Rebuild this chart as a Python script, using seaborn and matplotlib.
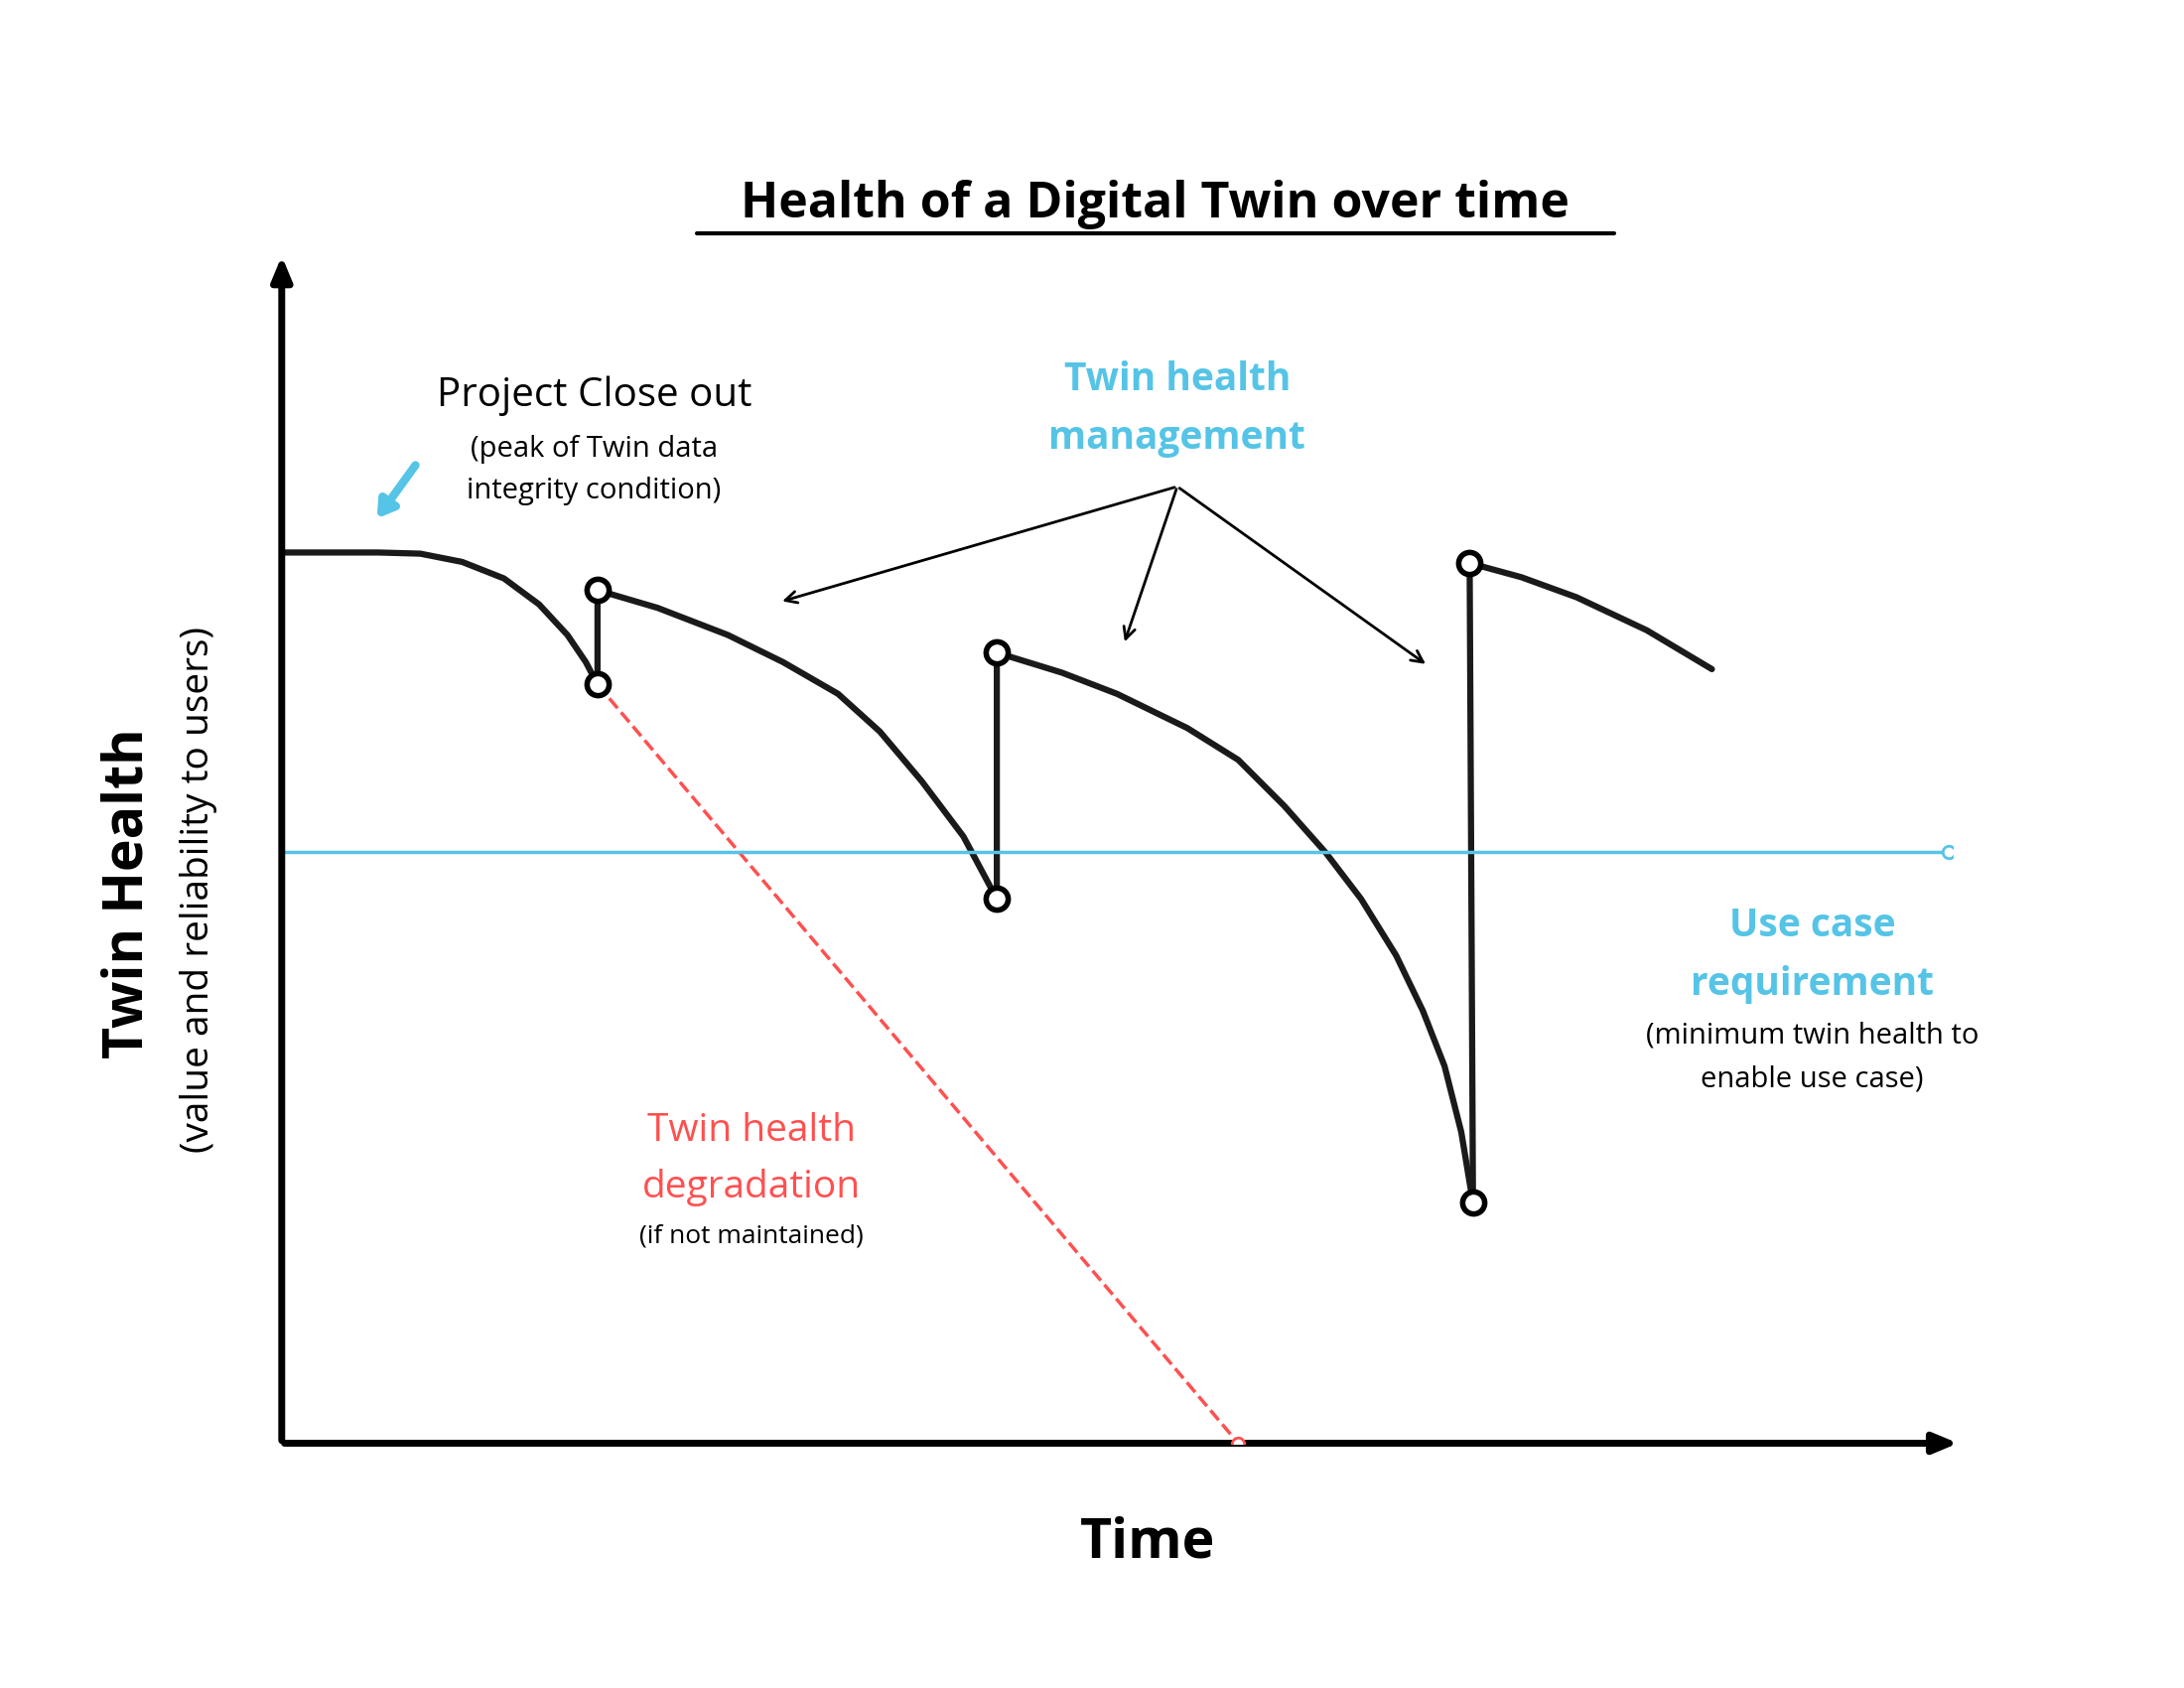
import matplotlib
matplotlib.use("Agg")
from matplotlib import pyplot as plt
import seaborn as sns
import pandas as pd

sns.set_theme(style="white")
plt.rcParams["font.family"] = ["Open Sans", "DejaVu Sans"]
plt.rcParams["text.color"] = "black"

# health curve segments (time, health)
seg1_t = [0, 5.8, 8.3, 10.8, 13.3, 15.4, 17.1, 18.2, 18.9]
seg1_h = [75.6, 75.6, 75.5, 74.8, 73.4, 71.2, 68.6, 66.3, 64.4]
seg2_t = [18.9, 18.9, 22.5, 26.7, 30.0, 33.3, 35.8, 38.3, 40.8, 42.8]
seg2_h = [64.4, 72.4, 70.9, 68.6, 66.3, 63.6, 60.4, 56.2, 51.5, 46.2]
seg3_t = [42.8, 42.8, 46.7, 50.0, 54.2, 57.25, 60.0, 62.5, 64.6, 66.7, 68.3, 69.6, 70.6, 71.3]
seg3_h = [46.2, 67.1, 65.4, 63.6, 60.7, 58.0, 54.1, 50.1, 46.2, 41.4, 36.7, 32.0, 26.4, 20.4]
seg4_t = [71.3, 71.1, 74.2, 77.5, 81.7, 85.6]
seg4_h = [20.4, 74.7, 73.5, 71.8, 69.0, 65.7]
node_t = [18.9, 18.9, 42.8, 42.8, 71.3, 71.1]
node_h = [64.4, 72.4, 46.2, 67.1, 20.4, 74.7]
degrade_t = [18.9, 57.25]
degrade_h = [64.4, 0]
requirement = 50.2

fig = plt.figure(figsize=(22, 17), dpi=100)
ax = fig.add_axes([0.129, 0.145, 0.765, 0.698])
ax.set_xlim(0, 100)
ax.set_ylim(0, 100)
ax.axis("off")

curve = pd.concat([
    pd.DataFrame({"t": seg1_t, "h": seg1_h, "s": 1}),
    pd.DataFrame({"t": seg2_t, "h": seg2_h, "s": 2}),
    pd.DataFrame({"t": seg3_t, "h": seg3_h, "s": 3}),
    pd.DataFrame({"t": seg4_t, "h": seg4_h, "s": 4}),
])
sns.lineplot(data=curve, x="t", y="h", units="s", estimator=None, sort=False,
             color="#1a1a1a", lw=4.5, ax=ax)
ax.plot(degrade_t, degrade_h, "--", color="#ff5050", lw=2.5)
ax.plot(degrade_t[1], degrade_h[1], "o", mfc="white", mec="#ff5050", ms=9, mew=2, zorder=6)
ax.plot([0, 99.8], [requirement, requirement], color="#55c4e6", lw=2.5)
ax.plot(99.8, requirement, "o", mfc="white", mec="#55c4e6", ms=9, mew=2)
ax.plot(node_t, node_h, "o", mfc="white", mec="black", ms=16, mew=4, zorder=5)

# axes arrows
ax.annotate("", xy=(100.5, 0), xytext=(0, 0), annotation_clip=False,
            arrowprops=dict(arrowstyle="-|>,head_length=1.2,head_width=0.5", lw=5, color="black"))
ax.annotate("", xy=(0, 101), xytext=(0, 0), annotation_clip=False,
            arrowprops=dict(arrowstyle="-|>,head_length=1.2,head_width=0.5", lw=5, color="black"))

blue = "#55c4e6"
red = "#ff5050"
fig.text(0.529, 0.879, "Health of a Digital Twin over time", ha="center", va="center",
         fontsize=36, fontweight="bold")
# underline title
fig.add_artist(plt.Line2D([0.319, 0.739], [0.862, 0.862], color="black", lw=3))

ax.text(18.7, 88.9, "Project Close out", ha="center", va="center", fontsize=29)
ax.text(18.7, 84.4, "(peak of Twin data", ha="center", va="center", fontsize=21)
ax.text(18.7, 80.8, "integrity condition)", ha="center", va="center", fontsize=21)
ax.annotate("", xy=(5.6, 78.3), xytext=(8.1, 83.2),
            arrowprops=dict(arrowstyle="-|>,head_length=0.8,head_width=0.5", lw=6, color=blue))

ax.text(53.6, 90.3, "Twin health", ha="center", va="center", fontsize=28, color=blue, fontweight="bold")
ax.text(53.6, 85.3, "management", ha="center", va="center", fontsize=28, color=blue, fontweight="bold")
for tx, ty in [(29.8, 71.4), (50.4, 67.8), (68.6, 66.0)]:
    ax.annotate("", xy=(tx, ty), xytext=(53.6, 81.2),
                arrowprops=dict(arrowstyle="->,head_length=0.7,head_width=0.35", lw=2, color="black"))

ax.text(91.6, 43.9, "Use case", ha="center", va="center", fontsize=28, color=blue, fontweight="bold")
ax.text(91.6, 38.9, "requirement", ha="center", va="center", fontsize=28, color=blue, fontweight="bold")
ax.text(91.6, 34.6, "(minimum twin health to", ha="center", va="center", fontsize=21)
ax.text(91.6, 30.9, "enable use case)", ha="center", va="center", fontsize=21)

ax.text(28.1, 26.5, "Twin health", ha="center", va="center", fontsize=28, color=red)
ax.text(28.1, 21.7, "degradation", ha="center", va="center", fontsize=28, color=red)
ax.text(28.1, 17.6, "(if not maintained)", ha="center", va="center", fontsize=19)

ax.text(51.8, -8.5, "Time", ha="center", va="center", fontsize=40, fontweight="bold")
ax.text(-9.2, 46.7, "Twin Health", ha="center", va="center", rotation=90, fontsize=40, fontweight="bold")
ax.text(-5.0, 47.0, "(value and reliability to users)", ha="center", va="center",
        rotation=90, fontsize=28)

fig.savefig("out.png", dpi=100)
